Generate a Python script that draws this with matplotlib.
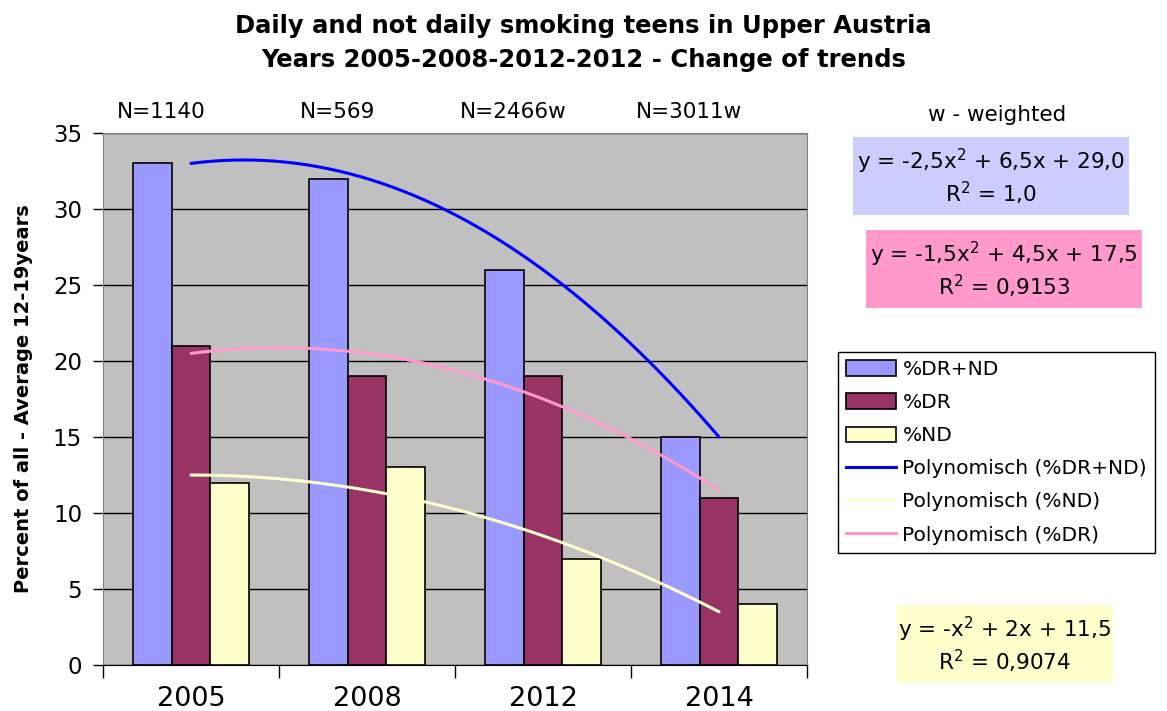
import numpy as np
import matplotlib
matplotlib.use("Agg")
import matplotlib.pyplot as plt
from matplotlib.patches import Rectangle, Patch
from matplotlib.lines import Line2D

plt.rcParams['font.family'] = ['DejaVu Sans']
plt.rcParams['mathtext.fontset'] = 'dejavusans'

years = ["2005", "2008", "2012", "2014"]
n_labels = ["N=1140", "N=569", "N=2466w", "N=3011w"]
dr_nd = [33, 32, 26, 15]
dr = [21, 19, 19, 11]
nd = [12, 13, 7, 4]

bar_colors = ["#9999FF", "#993366", "#FFFFCC"]
series_names = ["%DR+ND", "%DR", "%ND"]

W, H = 1167, 711
fig = plt.figure(figsize=(W / 100, H / 100), dpi=100)


def fx(px):
    return px / W


def fy(py):
    return 1 - py / H


ax = fig.add_axes([fx(103), fy(665), fx(807) - fx(103), fy(133) - fy(665)])
ax.set_facecolor("#C0C0C0")

x = np.arange(len(years))
bw = 0.22
for k, vals in enumerate([dr_nd, dr, nd]):
    ax.bar(x + (k - 1) * bw, vals, bw, color=bar_colors[k], edgecolor="black",
           linewidth=1.2, zorder=3)

# polynomial (2nd order) trend lines, Excel style x = 1..4
xs = np.linspace(1, 4, 200)
trend_specs = [(dr_nd, "#0000FF"), (nd, "#FFFFCC"), (dr, "#FF99CC")]
for vals, col in trend_specs:
    coef = np.polyfit(np.arange(1, 5), vals, 2)
    ax.plot(xs - 1, np.polyval(coef, xs), color=col, lw=2.2, zorder=4,
            solid_capstyle="round")

ax.set_xlim(-0.5, 3.5)
ax.set_ylim(0, 35)
ax.set_yticks(range(0, 36, 5))
ax.tick_params(axis="y", labelsize=16.5, length=7, width=1, direction="out", pad=8)
ax.set_xticks(np.arange(-0.5, 3.6, 1))
ax.set_xticklabels([])
ax.set_xticks(x, minor=True)
ax.set_xticklabels(years, minor=True, fontsize=19.5)
ax.tick_params(axis="x", which="major", length=9, width=1, direction="out")
ax.tick_params(axis="x", which="minor", length=0, pad=15)
ax.yaxis.grid(True, color="black", lw=1, zorder=1)
ax.set_axisbelow(True)
for s in ["top", "right", "left"]:
    ax.spines[s].set_color("#808080")
ax.spines["bottom"].set_color("black")

ax.set_ylabel("Percent of all - Average 12-19years", fontsize=14,
              fontweight="bold", labelpad=14)

for i, lab in enumerate(n_labels):
    ax.text(i - 0.17, 36.4, lab, ha="center", va="center", fontsize=15.5,
            clip_on=False)

fig.text(0.5, fy(26), "Daily and not daily smoking teens in Upper Austria",
         ha="center", va="center", fontsize=17.5, fontweight="bold")
fig.text(0.5, fy(60), "Years 2005-2008-2012-2012 - Change of trends",
         ha="center", va="center", fontsize=17.5, fontweight="bold")

fig.text(fx(997), fy(115), "w - weighted", ha="center", va="center", fontsize=15.5)

boxes = [
    ((853, 137, 1129, 215), "#CCCCFF", r"y = -2,5x$^2$ + 6,5x + 29,0", r"R$^2$ = 1,0"),
    ((866, 230, 1142, 308), "#FF99CC", r"y = -1,5x$^2$ + 4,5x + 17,5", r"R$^2$ = 0,9153"),
    ((897, 605, 1113, 683), "#FFFFCC", r"y = -x$^2$ + 2x + 11,5", r"R$^2$ = 0,9074"),
]
for (x0, y0, x1, y1), col, l1, l2 in boxes:
    fig.patches.append(Rectangle((fx(x0), fy(y1)), fx(x1) - fx(x0), fy(y0) - fy(y1),
                                 transform=fig.transFigure, facecolor=col,
                                 edgecolor="none", zorder=0))
    cx = (x0 + x1) / 2
    h = y1 - y0
    fig.text(fx(cx), fy(y0 + h * 0.31), l1, ha="center", va="center", fontsize=15.5)
    fig.text(fx(cx), fy(y0 + h * 0.72), l2, ha="center", va="center", fontsize=15.5)

handles = [Patch(facecolor=c, edgecolor="black", linewidth=1.2) for c in bar_colors]
handles += [Line2D([], [], color="#0000FF", lw=2.2),
            Line2D([], [], color="#FFFFCC", lw=2.2),
            Line2D([], [], color="#FF99CC", lw=2.2)]
labels = series_names + ["Polynomisch (%DR+ND)", "Polynomisch (%ND)", "Polynomisch (%DR)"]
leg = fig.legend(handles, labels, loc="upper left", bbox_to_anchor=(fx(838), fy(352)),
                 fontsize=14.5, frameon=True, fancybox=False, edgecolor="black",
                 framealpha=1, borderpad=0.4, labelspacing=0.7, handlelength=2.5,
                 handleheight=0.8, handletextpad=0.3, borderaxespad=0)
leg.get_frame().set_linewidth(1)

fig.savefig("out.png", dpi=100)
